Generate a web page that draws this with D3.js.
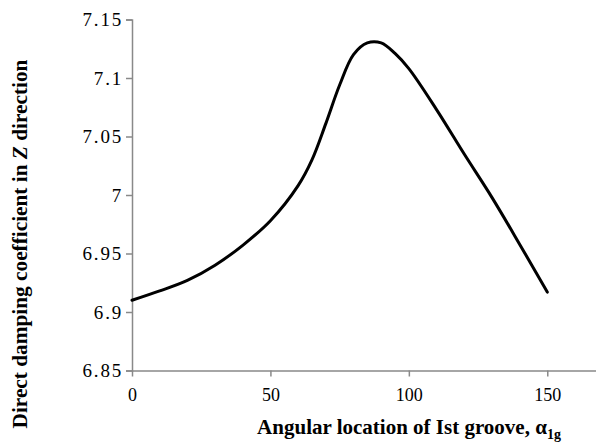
<!DOCTYPE html>
<html>
<head>
<meta charset="utf-8">
<script src="https://cdn.jsdelivr.net/npm/d3@7"></script>
<style>
  html, body { margin: 0; padding: 0; background: #fff; }
  svg { display: block; }
</style>
</head>
<body>
<svg id="chart" width="596" height="443"></svg>
<script>
// Angular location of the first groove (degrees)
const angle = [0, 10, 20, 30, 40, 50, 60, 65, 70, 75, 80, 85, 90, 95, 100, 110, 120, 130, 140, 150];
// Direct damping coefficient in Z direction
const damping = [6.910, 6.918, 6.927, 6.940, 6.957, 6.978, 7.008, 7.030, 7.061, 7.094, 7.120, 7.130, 7.130, 7.121, 7.108, 7.073, 7.035, 6.998, 6.958, 6.917];

const xTicks = [0, 50, 100, 150];
const yTicks = [6.85, 6.9, 6.95, 7, 7.05, 7.1, 7.15];

const serif = "'Liberation Serif', 'Times New Roman', Times, Tinos, 'DejaVu Serif', 'Noto Serif', FreeSerif, serif";

const svg = d3.select("#chart");
const plotLeft = 132, plotRight = 596, plotTop = 19.5, plotBottom = 370.5;

const x = d3.scaleLinear().domain([0, 167.6]).range([plotLeft, plotRight]);
const y = d3.scaleLinear().domain([6.85, 7.15]).range([plotBottom, plotTop]);

const axisColor = "#898989";

// y axis
const yAxis = svg.append("g")
  .attr("transform", `translate(${plotLeft},0)`)
  .call(d3.axisLeft(y).tickValues(yTicks).tickSize(6).tickPadding(3)
    .tickFormat(d => String(+d.toFixed(2))));
yAxis.select(".domain").attr("stroke", axisColor).attr("stroke-width", 1.5);
yAxis.selectAll(".tick line").attr("stroke", axisColor).attr("stroke-width", 1.5);
yAxis.selectAll(".tick text")
  .style("font-family", serif)
  .style("font-size", "19px")
  .style("letter-spacing", "1.8px")
  .attr("fill", "#000");

// x axis
const xAxis = svg.append("g")
  .attr("transform", `translate(0,${plotBottom})`)
  .call(d3.axisBottom(x).tickValues(xTicks).tickSize(6).tickPadding(12).tickSizeOuter(0));
xAxis.select(".domain").attr("stroke", axisColor).attr("stroke-width", 1.5);
xAxis.selectAll(".tick line").attr("stroke", axisColor).attr("stroke-width", 1.5);
xAxis.selectAll(".tick text")
  .style("font-family", serif)
  .style("font-size", "18px")
  .attr("fill", "#000");

// data curve
const line = d3.line()
  .x((d, i) => x(angle[i]))
  .y(d => y(d))
  .curve(d3.curveCatmullRom.alpha(0.5));

svg.append("path")
  .datum(damping)
  .attr("d", line)
  .attr("fill", "none")
  .attr("stroke", "#000")
  .attr("stroke-width", 3)
  .attr("stroke-linejoin", "round")
  .attr("stroke-linecap", "round");

// y axis title
const yt = svg.append("text")
  .attr("transform", "translate(27,244) rotate(-90)")
  .attr("text-anchor", "middle")
  .style("font-family", serif)
  .style("font-weight", "bold")
  .style("font-size", "21.3px");
yt.append("tspan").text("Direct damping coefficient in ");
yt.append("tspan").style("font-style", "italic").text("Z");
yt.append("tspan").text(" direction");

// x axis title
const xt = svg.append("text")
  .attr("x", 409)
  .attr("y", 434)
  .attr("text-anchor", "middle")
  .style("font-family", serif)
  .style("font-weight", "bold")
  .style("font-size", "21px");
xt.append("tspan").text("Angular location of Ist groove, α");
xt.append("tspan").style("font-size", "14px").attr("dy", 5).text("1g");
</script>
</body>
</html>
